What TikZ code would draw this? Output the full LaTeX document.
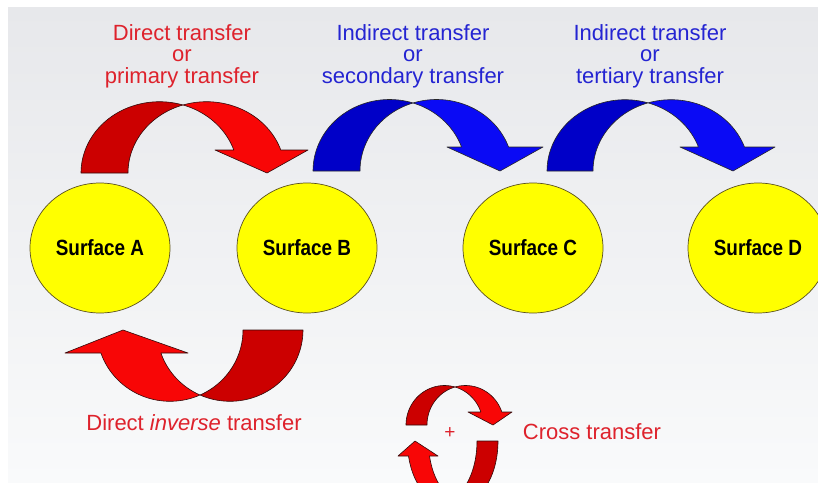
\documentclass[tikz,border=0pt]{standalone}
\usepackage{fontspec}
\usepackage{graphicx}
\setmainfont{Liberation Sans}
\usetikzlibrary{shapes.geometric}
\definecolor{bgtop}{RGB}{231,232,235}
\definecolor{bgbot}{RGB}{249,250,251}
\definecolor{redfront}{RGB}{248,6,6}
\definecolor{reddark}{RGB}{204,0,0}
\definecolor{bluefront}{RGB}{10,10,245}
\definecolor{bluedark}{RGB}{0,0,200}
\definecolor{txtred}{RGB}{222,34,44}
\definecolor{txtblue}{RGB}{36,36,210}
\definecolor{surf}{RGB}{255,255,0}
\definecolor{surfline}{RGB}{90,80,30}
\definecolor{arrline}{RGB}{50,10,10}
% #1 xL, #2 yb, #3 th, #4 a, #5 b, #6 yh, #7 left barb, #8 right barb, #9 tip x
\newcommand\curvarrow[9]{%
  \pgfmathsetmacro\cA{#1+#4}%
  \pgfmathsetmacro\cB{#1+#4+#3}%
  \pgfmathsetmacro\uu{acos(#3/(2*#4))}%
  \pgfmathsetmacro\tA{360-\uu}%
  \pgfmathsetmacro\tB{180+\uu}%
  \pgfmathsetmacro\tH{360-asin((#2-#6)/#5)}%
  \draw[arrdark] plot[domain=180:\tA,samples=40] ({\cA+#4*cos(\x)},{#2+#5*sin(\x)})
     -- plot[domain=\tB:180,samples=40] ({\cB+#4*cos(\x)},{#2+#5*sin(\x)}) -- cycle;
  \draw[arrfront] plot[domain=\tB:\tH,samples=40] ({\cB+#4*cos(\x)},{#2+#5*sin(\x)})
     -- (#8,#6) -- (#9,#2) -- (#7,#6)
     -- plot[domain=\tH:\tA,samples=40] ({\cA+#4*cos(\x)},{#2+#5*sin(\x)}) -- cycle;
}
\tikzset{
  surface/.style={ellipse, draw=surfline, line width=0.7pt, fill=surf,
    minimum width=140pt, minimum height=130pt, inner sep=0pt,
    font=\bfseries\fontsize{22}{24}\selectfont},
  redarrow/.style={arrdark/.style={fill=reddark, draw=arrline, line width=0.6pt, line join=round},
                   arrfront/.style={fill=redfront, draw=arrline, line width=0.6pt, line join=round}},
  bluearrow/.style={arrdark/.style={fill=bluedark, draw=black!85, line width=0.6pt, line join=round},
                    arrfront/.style={fill=bluefront, draw=black!85, line width=0.6pt, line join=round}},
  label/.style={align=center, font=\fontsize{22}{21.5}\selectfont, inner sep=0pt},
}
\begin{document}
\begin{tikzpicture}[x=1pt,y=-1pt]
\useasboundingbox (0,0) rectangle (818,482);
\clip (0,0) rectangle (818,482);
\fill[white] (0,0) rectangle (818,482);
\shade[top color=bgtop, bottom color=bgbot] (8,7) rectangle (818,482);

% surfaces
\node[surface] (A) at (100,248) {\scalebox{0.86}[1]{Surface A}};
\node[surface] (B) at (307,248) {\scalebox{0.86}[1]{Surface B}};
\node[surface] (C) at (533,248) {\scalebox{0.86}[1]{Surface C}};
\node[surface] (D) at (758,248) {\scalebox{0.86}[1]{Surface D}};

% top arrows
\begin{scope}[redarrow]
  \curvarrow{81}{173}{47}{78.5}{71.3}{150}{215}{308}{267}
\end{scope}
\begin{scope}[bluearrow]
  \curvarrow{313}{171}{47}{76.5}{71.5}{147}{447}{543}{500}
  \curvarrow{547}{171}{46}{78}{71.3}{147}{680}{775}{733}
\end{scope}

% direct inverse arrow
\begin{scope}[redarrow, rotate around={180:(200,365)}]
  \curvarrow{97}{400}{60}{73}{71.3}{377}{212}{335}{277}
\end{scope}

% cross transfer arrows
\begin{scope}[redarrow]
  \curvarrow{406}{425}{21}{38.5}{39.5}{412}{468}{512}{493}
\end{scope}
\begin{scope}[redarrow, rotate around={180:(450,460)}]
  \curvarrow{402}{479}{21}{34.8}{60}{464}{462}{502}{485}
\end{scope}

% labels
\node[label, text=txtred] (l1) at (182,56) {Direct transfer\\or\\primary transfer};
\node[label, text=txtblue] (l2) at (413,56) {Indirect transfer\\or\\secondary transfer};
\node[label, text=txtblue] (l3) at (650,56) {Indirect transfer\\or\\tertiary transfer};
\node[label, text=txtred] (l4) at (194,423) {Direct \textit{inverse} transfer};
\node[label, text=txtred] (l5) at (592,432) {Cross transfer};
\node[text=txtred, font=\fontsize{19}{19}\selectfont, inner sep=0pt] (plus) at (450,433) {+};
\end{tikzpicture}
\end{document}
